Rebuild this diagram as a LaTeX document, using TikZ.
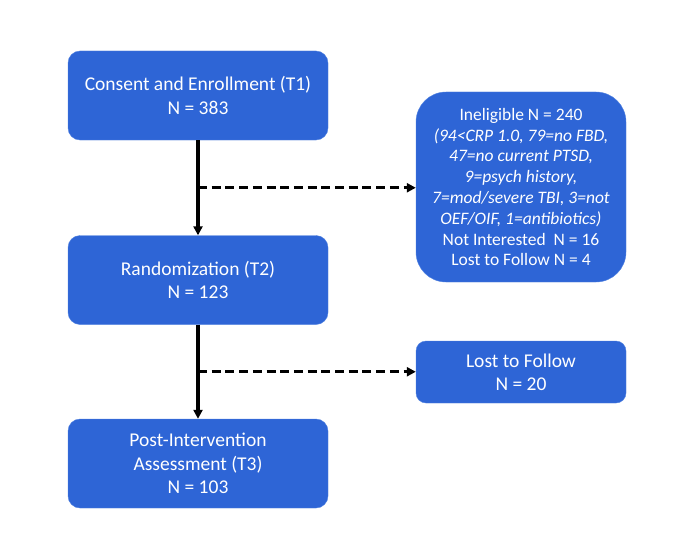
\documentclass[tikz,border=0pt]{standalone}
\usepackage{fontspec}
\setmainfont{Carlito}
\usepackage{tikz}
\usetikzlibrary{arrows.meta,calc,positioning}
\definecolor{boxblue}{RGB}{46,101,214}
\definecolor{boxedge}{RGB}{80,130,225}
\tikzset{
  stufe/.style={draw=boxedge,fill=boxblue,text=white,rounded corners=12pt,align=center,
    minimum width=260pt,minimum height=89pt,font=\fontsize{19.5}{23.6}\selectfont},
  seite/.style={draw=boxedge,fill=boxblue,text=white,rounded corners=10pt,align=center,
    minimum width=210pt,font=\fontsize{17.5}{20.8}\selectfont},
  pfeil/.style={line width=3.1pt,-{Triangle[length=9pt,width=9pt]}},
  strich/.style={pfeil,dash pattern=on 9pt off 4.7pt}
}
\begin{document}
\begin{tikzpicture}[x=1pt,y=-1pt]
\useasboundingbox[fill=white] (0,0) rectangle (700,559);
%Hauptablauf links
\node[stufe] (einschluss) at (198,95.5) {Consent and Enrollment (T1)\\N = 383};
\node[stufe] (random) at (198,280) {Randomization (T2)\\N = 123};
\node[stufe] (post) at (198,463.5) {Post-Intervention\\Assessment (T3)\\N = 103};
%Ausscheider rechts
\node[seite,rounded corners=30pt,minimum height=190pt] (ungeeignet) at (521,187)
  {Ineligible N = 240\\ \itshape (94<CRP 1.0, 79=no FBD,\\ \itshape 47=no current PTSD,\\
   \itshape 9=psych history,\\ \itshape 7=mod/severe TBI, 3=not\\ \itshape OEF/OIF, 1=antibiotics)\\
   Not Interested\ \ N = 16\\ Lost to Follow N = 4};
\node[seite,minimum height=62pt,font=\fontsize{19.5}{23}\selectfont] (verloren) at (521,372)
  {Lost to Follow\\N = 20};
%Verbindungen
\coordinate (abzweig1) at ($(einschluss.south)!0.5!(random.north)$);
\coordinate (abzweig2) at ($(random.south)!0.5!(post.north)$);
\draw[pfeil] (einschluss) -- (random);
\draw[pfeil] (random) -- (post);
\draw[strich] (abzweig1) -- (ungeeignet.west |- abzweig1);
\draw[strich] (abzweig2) -- (verloren.west |- abzweig2);
\end{tikzpicture}
\end{document}
